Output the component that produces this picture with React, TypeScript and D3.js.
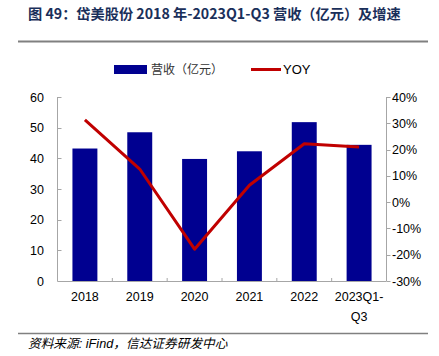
import React from "react";
import * as d3 from "d3";

const categories = ["2018", "2019", "2020", "2021", "2022", "2023Q1-Q3"];
const revenue = [43.2, 48.5, 39.8, 42.3, 51.8, 44.4];
const yoy = [31.3, 12.6, -17.9, 6.4, 22.2, 21.0];
const leftTicks = [0, 10, 20, 30, 40, 50, 60];
const rightTicks = [-30, -20, -10, 0, 10, 20, 30, 40];

const W = 439;
const H = 356;
const X0 = 57.5;
const X1 = 386.5;
const Y0 = 281;
const Y1 = 97;
const font = "'Liberation Sans', Arial, sans-serif";
const cjk = "'Liberation Sans', 'Noto Sans CJK SC', sans-serif";

export default function App() {
  const x = d3.scaleBand<string>().domain(categories).range([X0, X1]).paddingInner(0.545).paddingOuter(0.2725);
  const band = d3.scaleBand<string>().domain(categories).range([X0, X1]);
  const yL = d3.scaleLinear().domain([0, 60]).range([Y0, Y1]);
  const yR = d3.scaleLinear().domain([-30, 40]).range([Y0, Y1]);
  const line = d3
    .line<number>()
    .x((_, i) => (band(categories[i]) as number) + band.bandwidth() / 2)
    .y((d) => yR(d));

  return (
    <svg width={W} height={H} style={{ position: "absolute", left: 0, top: 0 }}>
      <rect width={W} height={H} fill="#fff" />
      <text x={28} y={19} fontFamily="'Noto Sans CJK SC', 'Liberation Sans', sans-serif" fontWeight="bold" fontSize={14.2} fill="#1a2f5a">
        图 49：岱美股份 2018 年-2023Q1-Q3 营收（亿元）及增速
      </text>
      <line x1={18} x2={428} y1={41.5} y2={41.5} stroke="#808080" strokeWidth={2} />

      {/* legend */}
      <rect x={114} y={65} width={33} height={9} fill="#000090" />
      <text x={151} y={73.5} fontFamily="'Noto Sans CJK SC', sans-serif" fontSize={12} fill="#333">营收（亿元）</text>
      <line x1={251} x2={281} y1={69.5} y2={69.5} stroke="#c00000" strokeWidth={3} />
      <text x={283} y={74} fontFamily={font} fontSize={13} fill="#000">YOY</text>

      {/* bars */}
      {revenue.map((v, i) => (
        <rect key={i} x={x(categories[i])} y={yL(v)} width={x.bandwidth()} height={Y0 - yL(v)} fill="#000090" />
      ))}

      {/* axes */}
      <line x1={X0} x2={X0} y1={Y1} y2={Y0} stroke="#a6a6a6" />
      <line x1={X1} x2={X1} y1={Y1} y2={Y0} stroke="#a6a6a6" />
      <line x1={X0} x2={X1} y1={Y0 + 0.5} y2={Y0 + 0.5} stroke="#a6a6a6" />
      {leftTicks.map((t) => (
        <g key={"l" + t}>
          <line x1={X0} x2={X0 + 4} y1={Math.round(yL(t)) + 0.5} y2={Math.round(yL(t)) + 0.5} stroke="#a6a6a6" />
          <text x={44} y={yL(t) + 4.5} textAnchor="end" fontFamily={font} fontSize={12.5} fill="#000">{t}</text>
        </g>
      ))}
      {rightTicks.map((t) => (
        <g key={"r" + t}>
          <line x1={X1} x2={X1 + 4} y1={Math.round(yR(t)) + 0.5} y2={Math.round(yR(t)) + 0.5} stroke="#a6a6a6" />
          <text x={392} y={yR(t) + 4.5} fontFamily={font} fontSize={12.5} fill="#000">{t}%</text>
        </g>
      ))}
      {categories.slice(1).map((c) => (
        <line key={"t" + c} x1={band(c)} x2={band(c)} y1={Y0 - 3} y2={Y0 + 1} stroke="#a6a6a6" />
      ))}
      {categories.map((c) => {
        const cx = (band(c) as number) + band.bandwidth() / 2;
        if (c.length > 4) {
          return (
            <text key={c} textAnchor="middle" fontFamily={font} fontSize={12.5} fill="#000">
              <tspan x={cx} y={301}>2023Q1-</tspan>
              <tspan x={cx} y={321}>Q3</tspan>
            </text>
          );
        }
        return (
          <text key={c} x={cx} y={301} textAnchor="middle" fontFamily={font} fontSize={12.5} fill="#000">{c}</text>
        );
      })}

      {/* yoy line */}
      <path d={line(yoy) as string} fill="none" stroke="#c00000" strokeWidth={3} strokeLinejoin="round" />

      {/* footer */}
      <line x1={18} x2={428} y1={333.5} y2={333.5} stroke="#808080" strokeWidth={1.5} />
      <text x={28} y={348} fontFamily={cjk} fontStyle="italic" fontSize={12.7} fill="#000">资料来源: iFind，信达证券研发中心</text>
    </svg>
  );
}
